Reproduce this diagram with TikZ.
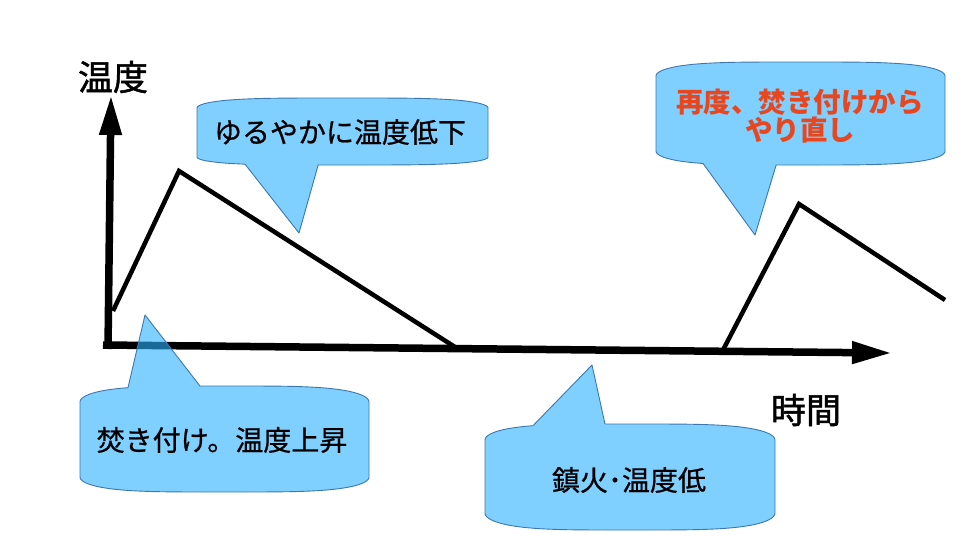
\documentclass[tikz,border=0pt]{standalone}
\usepackage{fontspec}
\setmainfont{Noto Sans CJK JP}
\newfontfamily\cjkmed[FakeBold=0.7]{Noto Sans CJK JP}
\newfontfamily\cjkax[FakeBold=1.3]{Noto Sans CJK JP}
\usetikzlibrary{arrows.meta}
\definecolor{cfill}{RGB}{43,175,255}
\definecolor{cline}{RGB}{60,120,175}
\definecolor{ctred}{RGB}{232,70,30}
% parametric edge of a callout: x = xc + hw*sin t, y = Y + S*cos t*sqrt(1+sin^2 t)
\newcommand\ex[2]{\xc+\hw*sin((#1)+((#2)-(#1))*\s)}
\newcommand\ey[4]{(#1)+(#2)*cos((#3)+((#4)-(#3))*\s)*sqrt(1+sin((#3)+((#4)-(#3))*\s)*sin((#3)+((#4)-(#3))*\s))}
\newcommand\setcallout[8]{%
  \def\Xa{#1}\def\Xb{#2}\def\Yt{#3}\def\St{#4}\def\Yb{#5}\def\Sb{#6}%
  \pgfmathsetmacro\xc{(#1+#2)/2}%
  \pgfmathsetmacro\hw{(#2-#1)/2}%
  \pgfmathsetmacro\ta{asin((#7-\xc)/\hw)}%
  \pgfmathsetmacro\tb{asin((#8-\xc)/\hw)}%
}
\begin{document}
\begin{tikzpicture}[x=1pt,y=-1pt,
  axarrow/.style={line width=7.5pt,-{Triangle[length=40pt,width=21pt]}},
  tline/.style={line width=4.5pt},
  bubble/.style={fill=cfill,fill opacity=0.6,draw=cline,line width=0.9pt,line join=round},
  ctext/.style={font=\cjkmed\fontsize{28}{28}\selectfont,inner sep=0pt},
  rtext/.style={font=\fontsize{27.5}{28}\selectfont\bfseries,text=ctred,align=center,inner sep=0pt},
  atext/.style={font=\cjkax\fontsize{35}{35}\selectfont,inner sep=0pt}]
\useasboundingbox[fill=white] (0,0) rectangle (977,549);
% axes
\coordinate (o1) at (108,349);
\coordinate (ytop) at (111,95);
\coordinate (o2) at (103,345);
\coordinate (xend) at (892,353);
\draw[axarrow] (o1) -- (ytop);
\draw[axarrow] (o2) -- (xend);
% temperature lines
\coordinate (p1) at (113,311);
\coordinate (p2) at (179,171);
\coordinate (p3) at (455,347);
\draw[tline] (p1) -- (p2) -- (p3);
\coordinate (q1) at (723,350);
\coordinate (q2) at (799,204);
\coordinate (q3) at (945,300);
\draw[tline] (q1) -- (q2) -- (q3);
% axis labels
\node[atext] (lt) at (113,77) {温度};
\node[atext] (lx) at (806,410) {時間};
% callout 1
\setcallout{197}{488}{108}{10}{157}{8}{245}{318}
\coordinate (t1) at (299,233);
\path[bubble] (\Xa,\Yt)
  -- plot[variable=\s,domain=0:1,samples=120] ({\ex{-90}{90}},{\ey{\Yt}{-\St}{-90}{90}})
  -- (\Xb,\Yb)
  -- plot[variable=\s,domain=0:1,samples=60] ({\ex{90}{\tb}},{\ey{\Yb}{\Sb}{90}{\tb}})
  -- (t1)
  -- plot[variable=\s,domain=0:1,samples=40] ({\ex{\ta}{-90}},{\ey{\Yb}{\Sb}{\ta}{-90}})
  -- cycle;
\node[ctext] (c1) at (340,132) {ゆるやかに温度低下};
% callout 2
\setcallout{656}{945}{76}{14}{151}{14}{703}{776}
\coordinate (t2) at (755,235);
\path[bubble] (\Xa,\Yt)
  -- plot[variable=\s,domain=0:1,samples=120] ({\ex{-90}{90}},{\ey{\Yt}{-\St}{-90}{90}})
  -- (\Xb,\Yb)
  -- plot[variable=\s,domain=0:1,samples=60] ({\ex{90}{\tb}},{\ey{\Yb}{\Sb}{90}{\tb}})
  -- (t2)
  -- plot[variable=\s,domain=0:1,samples=40] ({\ex{\ta}{-90}},{\ey{\Yb}{\Sb}{\ta}{-90}})
  -- cycle;
\node[rtext] (c2) at (800,116) {再度、焚き付けから\\やり直し};
% callout 3
\setcallout{80}{369}{402}{16}{477}{15}{128}{200}
\coordinate (t3) at (145,315);
\path[bubble] (\Xa,\Yt)
  -- plot[variable=\s,domain=0:1,samples=40] ({\ex{-90}{\ta}},{\ey{\Yt}{-\St}{-90}{\ta}})
  -- (t3)
  -- plot[variable=\s,domain=0:1,samples=60] ({\ex{\tb}{90}},{\ey{\Yt}{-\St}{\tb}{90}})
  -- (\Xb,\Yb)
  -- plot[variable=\s,domain=0:1,samples=120] ({\ex{90}{-90}},{\ey{\Yb}{\Sb}{90}{-90}})
  -- cycle;
\node[ctext] (c3) at (222,440) {焚き付け。温度上昇};
% callout 4
\setcallout{485}{775}{440}{16}{513}{17}{533}{605}
\coordinate (t4) at (592,365);
\path[bubble] (\Xa,\Yt)
  -- plot[variable=\s,domain=0:1,samples=40] ({\ex{-90}{\ta}},{\ey{\Yt}{-\St}{-90}{\ta}})
  -- (t4)
  -- plot[variable=\s,domain=0:1,samples=60] ({\ex{\tb}{90}},{\ey{\Yt}{-\St}{\tb}{90}})
  -- (\Xb,\Yb)
  -- plot[variable=\s,domain=0:1,samples=120] ({\ex{90}{-90}},{\ey{\Yb}{\Sb}{90}{-90}})
  -- cycle;
\node[ctext] (c4) at (629,480) {鎮火･温度低};
\end{tikzpicture}
\end{document}
